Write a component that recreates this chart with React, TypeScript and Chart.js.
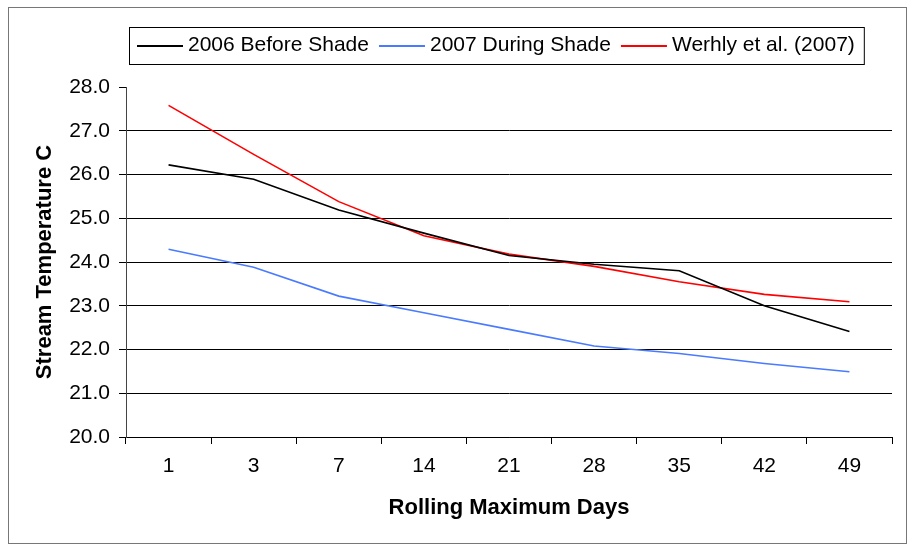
import React, { useEffect, useRef } from "react";
import { Chart, registerables } from "chart.js";

Chart.register(...registerables);

const categories = ["1", "3", "7", "14", "21", "28", "35", "42", "49"];
const before2006 = [26.22, 25.89, 25.19, 24.66, 24.15, 23.95, 23.8, 23.0, 22.41];
const during2007 = [24.29, 23.88, 23.22, 22.84, 22.46, 22.08, 21.91, 21.68, 21.49];
const werhly2007 = [27.58, 26.46, 25.38, 24.6, 24.18, 23.9, 23.55, 23.26, 23.09];
const seriesLabels = ["2006 Before Shade", "2007 During Shade", "Werhly et al. (2007)"];
const seriesColors = ["#000000", "#4a7bff", "#ff0000"];
const yMin = 20;
const yMax = 28;
const yStep = 1;
const xTitle = "Rolling Maximum Days";
const yTitle = "Stream Temperature C";

const FONT = "'Liberation Sans', Arial, sans-serif";

const legendBox = {
  id: "legendBox",
  afterDraw(chart: any) {
    const ctx = chart.ctx;
    ctx.save();
    ctx.font = `21px ${FONT}`;
    const sample = 46;
    const gapText = 5;
    const gapItem = 10;
    const padX = 8;
    const left = 120;
    const top = 19;
    const bottom = 56;
    const lineY = 38;
    const textY = 37;
    let x = left + padX;
    const ds = chart.data.datasets;
    ds.forEach((d: any, i: number) => {
      ctx.strokeStyle = d.borderColor;
      ctx.lineWidth = 2;
      ctx.beginPath();
      ctx.moveTo(x, lineY);
      ctx.lineTo(x + sample, lineY);
      ctx.stroke();
      x += sample + gapText;
      ctx.fillStyle = "#000";
      ctx.textBaseline = "middle";
      ctx.textAlign = "left";
      ctx.fillText(d.label, x, textY);
      x += ctx.measureText(d.label).width + (i < ds.length - 1 ? gapItem : 0);
    });
    const right = x + 9;
    ctx.strokeStyle = "#000";
    ctx.lineWidth = 1;
    ctx.strokeRect(left + 0.5, top + 0.5, right - left, bottom - top);
    ctx.restore();
  },
};

export default function App() {
  const ref = useRef<HTMLCanvasElement | null>(null);
  useEffect(() => {
    if (!ref.current) return;
    const series = [before2006, during2007, werhly2007];
    const chart = new Chart(ref.current, {
      type: "line",
      data: {
        labels: categories,
        datasets: series.map((s, i) => ({
          label: seriesLabels[i],
          data: s,
          borderColor: seriesColors[i],
          backgroundColor: seriesColors[i],
          borderWidth: 1.6,
          pointRadius: 0,
          tension: 0,
          fill: false,
        })),
      },
      options: {
        animation: false,
        responsive: false,
        devicePixelRatio: 1,
        layout: { padding: { top: 79, left: 0, right: 14, bottom: 0 } },
        plugins: {
          legend: { display: false },
          tooltip: { enabled: false },
        },
        scales: {
          x: {
            offset: true,
            grid: {
              offset: true,
              drawOnChartArea: false,
              tickLength: 7,
              tickColor: "#000",
              color: "#000",
            },
            border: { color: "#000", width: 1 },
            ticks: { color: "#000", font: { family: FONT, size: 21 }, padding: 10, maxRotation: 0 },
            title: {
              display: true,
              text: xTitle,
              color: "#000",
              font: { family: FONT, size: 22, weight: "bold" },
              padding: { top: 0, bottom: 22 },
            },
            afterFit(scale: any) {
              scale.height = 106;
            },
          },
          y: {
            min: yMin,
            max: yMax,
            ticks: {
              stepSize: yStep,
              color: "#000",
              font: { family: FONT, size: 21 },
              padding: 9,
              callback: (v: any) => Number(v).toFixed(1),
            },
            grid: {
              tickLength: 7,
              tickColor: "#000",
              color: (c: any) => (c.tick && c.tick.value === yMax ? "rgba(0,0,0,0)" : "#000"),
            },
            border: { color: "#444", width: 1 },
            title: {
              display: true,
              text: yTitle,
              color: "#000",
              font: { family: FONT, size: 22, weight: "bold" },
              padding: { top: 23, bottom: 0 },
            },
            afterFit(scale: any) {
              scale.width = 117;
            },
          },
        },
      },
      plugins: [legendBox],
    });
    return () => chart.destroy();
  }, []);

  return (
    <div
      style={{
        position: "absolute",
        left: 8,
        top: 7,
        width: 899,
        height: 537,
        boxSizing: "border-box",
        border: "1px solid #777",
        background: "#fff",
      }}
    >
      <canvas ref={ref} width={897} height={535} style={{ display: "block", width: 897, height: 535 }} />
    </div>
  );
}
